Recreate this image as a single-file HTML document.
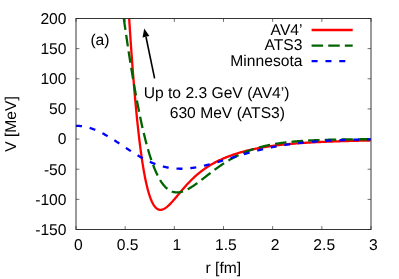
<!DOCTYPE html>
<html><head><meta charset="utf-8"><title>Potentials</title>
<style>
html,body{margin:0;padding:0;background:#fff;}
body{width:399px;height:279px;overflow:hidden;}
svg{display:block;will-change:transform;}
text{font-family:"Liberation Sans",sans-serif;font-size:15.65px;fill:#000;text-rendering:geometricPrecision;}
</style></head><body>
<svg width="399" height="279" viewBox="0 0 399 279">
<rect width="399" height="279" fill="#fff"/>
<defs><clipPath id="c"><rect x="76.0" y="18.5" width="295.0" height="211.0"/></clipPath></defs>
<g fill="none" stroke="#222" stroke-width="0.65"><path d="M76.00,229.5 v-3.4 M76.00,18.5 v3.4"/><path d="M125.17,229.5 v-3.4 M125.17,18.5 v3.4"/><path d="M174.33,229.5 v-3.4 M174.33,18.5 v3.4"/><path d="M223.50,229.5 v-3.4 M223.50,18.5 v3.4"/><path d="M272.67,229.5 v-3.4 M272.67,18.5 v3.4"/><path d="M321.83,229.5 v-3.4 M321.83,18.5 v3.4"/><path d="M371.00,229.5 v-3.4 M371.00,18.5 v3.4"/><path d="M76.0,18.50 h3.4 M371.0,18.50 h-3.4"/><path d="M76.0,48.64 h3.4 M371.0,48.64 h-3.4"/><path d="M76.0,78.79 h3.4 M371.0,78.79 h-3.4"/><path d="M76.0,108.93 h3.4 M371.0,108.93 h-3.4"/><path d="M76.0,139.07 h3.4 M371.0,139.07 h-3.4"/><path d="M76.0,169.21 h3.4 M371.0,169.21 h-3.4"/><path d="M76.0,199.36 h3.4 M371.0,199.36 h-3.4"/><path d="M76.0,229.50 h3.4 M371.0,229.50 h-3.4"/></g>
<g clip-path="url(#c)" fill="none" stroke-width="2.3" stroke-linejoin="round">
<path d="M129.17,18.50 L129.20,19.02 L129.69,26.66 L130.18,34.12 L130.67,41.38 L131.16,48.45 L131.66,55.33 L132.15,62.03 L132.64,68.54 L133.13,74.87 L133.62,81.02 L134.12,86.98 L134.61,92.77 L135.10,98.38 L135.59,103.81 L136.08,109.07 L136.57,114.17 L137.06,119.09 L137.56,123.84 L138.05,128.44 L138.54,132.87 L139.03,137.14 L139.52,141.26 L140.01,145.22 L140.51,149.03 L141.00,152.69 L141.49,156.21 L141.98,159.58 L142.47,162.81 L142.97,165.91 L143.46,168.87 L143.95,171.70 L144.44,174.40 L144.93,176.98 L145.42,179.43 L145.91,181.76 L146.41,183.98 L146.90,186.08 L147.39,188.07 L147.88,189.95 L148.37,191.72 L148.87,193.40 L149.36,194.97 L149.85,196.45 L150.34,197.83 L150.83,199.12 L151.32,200.33 L151.81,201.44 L152.31,202.48 L152.80,203.43 L153.29,204.31 L153.78,205.11 L154.27,205.84 L154.76,206.50 L155.26,207.09 L155.75,207.62 L156.24,208.08 L156.73,208.49 L157.22,208.83 L157.72,209.12 L158.21,209.36 L158.70,209.55 L159.19,209.68 L159.68,209.77 L160.17,209.82 L160.67,209.82 L161.16,209.79 L161.65,209.71 L162.14,209.60 L162.63,209.45 L163.12,209.27 L163.62,209.05 L164.11,208.81 L164.60,208.54 L165.09,208.24 L165.58,207.91 L166.07,207.57 L166.56,207.19 L167.06,206.80 L167.55,206.39 L168.04,205.96 L168.53,205.52 L169.02,205.05 L169.51,204.58 L170.01,204.08 L170.50,203.58 L170.99,203.07 L171.48,202.54 L171.97,202.00 L172.46,201.46 L172.96,200.91 L173.45,200.35 L173.94,199.79 L174.43,199.22 L174.92,198.64 L175.42,198.06 L175.91,197.48 L176.40,196.90 L176.89,196.31 L177.38,195.72 L177.87,195.13 L178.37,194.54 L178.86,193.95 L179.35,193.36 L179.84,192.78 L180.33,192.19 L180.82,191.61 L181.31,191.02 L181.81,190.44 L182.30,189.87 L182.79,189.29 L183.28,188.72 L183.77,188.15 L184.26,187.59 L184.76,187.03 L185.25,186.48 L185.74,185.93 L186.23,185.38 L186.72,184.84 L187.21,184.30 L187.71,183.77 L188.20,183.24 L188.69,182.72 L189.18,182.21 L189.67,181.70 L190.17,181.19 L190.66,180.69 L191.15,180.20 L191.64,179.71 L192.13,179.23 L192.62,178.75 L193.12,178.28 L193.61,177.82 L194.10,177.36 L194.59,176.90 L195.08,176.46 L195.57,176.01 L196.06,175.58 L196.56,175.14 L197.05,174.72 L197.54,174.30 L198.03,173.88 L198.52,173.47 L199.01,173.07 L199.51,172.67 L200.00,172.28 L200.49,171.89 L200.98,171.51 L201.47,171.13 L201.96,170.75 L202.46,170.39 L202.95,170.02 L203.44,169.67 L203.93,169.31 L204.42,168.96 L204.91,168.62 L205.41,168.28 L205.90,167.95 L206.39,167.61 L206.88,167.29 L207.37,166.97 L207.86,166.65 L208.36,166.34 L208.85,166.03 L209.34,165.72 L209.83,165.42 L210.32,165.12 L210.81,164.83 L211.31,164.54 L211.80,164.26 L212.29,163.97 L212.78,163.70 L213.27,163.42 L213.77,163.15 L214.26,162.88 L214.75,162.62 L215.24,162.36 L215.73,162.10 L216.22,161.84 L216.72,161.59 L217.21,161.35 L217.70,161.10 L218.19,160.86 L218.68,160.62 L219.17,160.38 L219.66,160.15 L220.16,159.92 L220.65,159.69 L221.14,159.47 L221.63,159.24 L222.12,159.02 L222.62,158.81 L223.11,158.59 L223.60,158.38 L224.09,158.17 L224.58,157.96 L225.07,157.76 L225.57,157.56 L226.06,157.36 L226.55,157.16 L227.04,156.97 L227.53,156.77 L228.02,156.58 L228.51,156.39 L229.01,156.21 L229.50,156.02 L229.99,155.84 L230.48,155.66 L230.97,155.48 L231.47,155.31 L231.96,155.13 L232.45,154.96 L232.94,154.79 L233.43,154.62 L233.92,154.46 L234.41,154.29 L234.91,154.13 L235.40,153.97 L235.89,153.81 L236.38,153.66 L236.87,153.50 L237.37,153.35 L237.86,153.19 L238.35,153.04 L238.84,152.90 L239.33,152.75 L239.82,152.60 L240.31,152.46 L240.81,152.32 L241.30,152.18 L241.79,152.04 L242.28,151.90 L242.77,151.77 L243.27,151.63 L243.76,151.50 L244.25,151.37 L244.74,151.24 L245.23,151.11 L245.72,150.99 L246.22,150.86 L246.71,150.74 L247.20,150.61 L247.69,150.49 L248.18,150.37 L248.67,150.25 L249.16,150.14 L249.66,150.02 L250.15,149.91 L250.64,149.79 L251.13,149.68 L251.62,149.57 L252.12,149.46 L252.61,149.36 L253.10,149.25 L253.59,149.14 L254.08,149.04 L254.57,148.94 L255.06,148.83 L255.56,148.73 L256.05,148.63 L256.54,148.53 L257.03,148.44 L257.52,148.34 L258.01,148.25 L258.51,148.15 L259.00,148.06 L259.49,147.97 L259.98,147.88 L260.47,147.79 L260.97,147.70 L261.46,147.61 L261.95,147.52 L262.44,147.44 L262.93,147.35 L263.42,147.27 L263.91,147.19 L264.41,147.11 L264.90,147.02 L265.39,146.94 L265.88,146.87 L266.37,146.79 L266.87,146.71 L267.36,146.63 L267.85,146.56 L268.34,146.48 L268.83,146.41 L269.32,146.34 L269.82,146.27 L270.31,146.20 L270.80,146.13 L271.29,146.06 L271.78,145.99 L272.27,145.92 L272.76,145.85 L273.26,145.79 L273.75,145.72 L274.24,145.66 L274.73,145.59 L275.22,145.53 L275.72,145.47 L276.21,145.41 L276.70,145.35 L277.19,145.29 L277.68,145.23 L278.17,145.17 L278.66,145.11 L279.16,145.05 L279.65,145.00 L280.14,144.94 L280.63,144.89 L281.12,144.83 L281.62,144.78 L282.11,144.72 L282.60,144.67 L283.09,144.62 L283.58,144.57 L284.07,144.52 L284.57,144.47 L285.06,144.42 L285.55,144.37 L286.04,144.32 L286.53,144.27 L287.02,144.22 L287.51,144.18 L288.01,144.13 L288.50,144.08 L288.99,144.04 L289.48,143.99 L289.97,143.95 L290.47,143.91 L290.96,143.86 L291.45,143.82 L291.94,143.78 L292.43,143.74 L292.92,143.69 L293.41,143.65 L293.91,143.61 L294.40,143.57 L294.89,143.53 L295.38,143.50 L295.87,143.46 L296.37,143.42 L296.86,143.38 L297.35,143.34 L297.84,143.31 L298.33,143.27 L298.82,143.23 L299.31,143.20 L299.81,143.16 L300.30,143.13 L300.79,143.10 L301.28,143.06 L301.77,143.03 L302.26,142.99 L302.76,142.96 L303.25,142.93 L303.74,142.90 L304.23,142.86 L304.72,142.83 L305.22,142.80 L305.71,142.77 L306.20,142.74 L306.69,142.71 L307.18,142.68 L307.67,142.65 L308.17,142.62 L308.66,142.59 L309.15,142.57 L309.64,142.54 L310.13,142.51 L310.62,142.48 L311.12,142.45 L311.61,142.43 L312.10,142.40 L312.59,142.37 L313.08,142.35 L313.57,142.32 L314.07,142.30 L314.56,142.27 L315.05,142.24 L315.54,142.22 L316.03,142.20 L316.52,142.17 L317.01,142.15 L317.51,142.12 L318.00,142.10 L318.49,142.08 L318.98,142.05 L319.47,142.03 L319.97,142.01 L320.46,141.98 L320.95,141.96 L321.44,141.94 L321.93,141.92 L322.42,141.90 L322.91,141.87 L323.41,141.85 L323.90,141.83 L324.39,141.81 L324.88,141.79 L325.37,141.77 L325.87,141.75 L326.36,141.73 L326.85,141.71 L327.34,141.69 L327.83,141.67 L328.32,141.65 L328.82,141.63 L329.31,141.61 L329.80,141.59 L330.29,141.58 L330.78,141.56 L331.27,141.54 L331.76,141.52 L332.26,141.50 L332.75,141.48 L333.24,141.47 L333.73,141.45 L334.22,141.43 L334.72,141.41 L335.21,141.40 L335.70,141.38 L336.19,141.36 L336.68,141.35 L337.17,141.33 L337.67,141.31 L338.16,141.30 L338.65,141.28 L339.14,141.27 L339.63,141.25 L340.12,141.23 L340.61,141.22 L341.11,141.20 L341.60,141.19 L342.09,141.17 L342.58,141.16 L343.07,141.14 L343.56,141.13 L344.06,141.11 L344.55,141.10 L345.04,141.08 L345.53,141.07 L346.02,141.06 L346.51,141.04 L347.01,141.03 L347.50,141.01 L347.99,141.00 L348.48,140.99 L348.97,140.97 L349.47,140.96 L349.96,140.95 L350.45,140.93 L350.94,140.92 L351.43,140.91 L351.92,140.89 L352.42,140.88 L352.91,140.87 L353.40,140.85 L353.89,140.84 L354.38,140.83 L354.87,140.82 L355.37,140.80 L355.86,140.79 L356.35,140.78 L356.84,140.77 L357.33,140.76 L357.82,140.74 L358.31,140.73 L358.81,140.72 L359.30,140.71 L359.79,140.70 L360.28,140.69 L360.77,140.67 L361.27,140.66 L361.76,140.65 L362.25,140.64 L362.74,140.63 L363.23,140.62 L363.72,140.61 L364.21,140.60 L364.71,140.59 L365.20,140.58 L365.69,140.56 L366.18,140.55 L366.67,140.54 L367.17,140.53 L367.66,140.52 L368.15,140.51 L368.64,140.50 L369.13,140.49 L369.62,140.48 L370.12,140.47 L370.61,140.46" stroke="#ff0000"/>
<path d="M123.80,18.50 L123.89,19.15 L124.38,22.61 L124.87,26.05 L125.36,29.46 L125.85,32.84 L126.35,36.20 L126.84,39.53 L127.33,42.84 L127.82,46.11 L128.31,49.36 L128.81,52.57 L129.30,55.75 L129.79,58.90 L130.28,62.02 L130.77,65.11 L131.26,68.16 L131.75,71.17 L132.25,74.16 L132.74,77.10 L133.23,80.01 L133.72,82.89 L134.21,85.73 L134.70,88.53 L135.20,91.29 L135.69,94.02 L136.18,96.70 L136.67,99.35 L137.16,101.96 L137.66,104.53 L138.15,107.06 L138.64,109.56 L139.13,112.01 L139.62,114.42 L140.11,116.79 L140.61,119.13 L141.10,121.42 L141.59,123.67 L142.08,125.88 L142.57,128.05 L143.06,130.18 L143.56,132.27 L144.05,134.32 L144.54,136.33 L145.03,138.30 L145.52,140.23 L146.01,142.12 L146.50,143.96 L147.00,145.77 L147.49,147.54 L147.98,149.27 L148.47,150.95 L148.96,152.60 L149.45,154.21 L149.95,155.78 L150.44,157.32 L150.93,158.81 L151.42,160.26 L151.91,161.68 L152.41,163.06 L152.90,164.40 L153.39,165.71 L153.88,166.97 L154.37,168.21 L154.86,169.40 L155.36,170.56 L155.85,171.68 L156.34,172.77 L156.83,173.83 L157.32,174.85 L157.81,175.83 L158.31,176.78 L158.80,177.70 L159.29,178.59 L159.78,179.44 L160.27,180.27 L160.76,181.06 L161.25,181.82 L161.75,182.54 L162.24,183.24 L162.73,183.91 L163.22,184.55 L163.71,185.16 L164.20,185.75 L164.70,186.30 L165.19,186.83 L165.68,187.33 L166.17,187.80 L166.66,188.25 L167.16,188.67 L167.65,189.07 L168.14,189.44 L168.63,189.79 L169.12,190.11 L169.61,190.41 L170.11,190.69 L170.60,190.94 L171.09,191.18 L171.58,191.39 L172.07,191.58 L172.56,191.75 L173.06,191.90 L173.55,192.03 L174.04,192.15 L174.53,192.24 L175.02,192.32 L175.51,192.37 L176.00,192.41 L176.50,192.44 L176.99,192.44 L177.48,192.43 L177.97,192.41 L178.46,192.37 L178.95,192.31 L179.45,192.24 L179.94,192.16 L180.43,192.06 L180.92,191.95 L181.41,191.82 L181.90,191.69 L182.40,191.54 L182.89,191.38 L183.38,191.21 L183.87,191.03 L184.36,190.83 L184.86,190.63 L185.35,190.42 L185.84,190.20 L186.33,189.96 L186.82,189.72 L187.31,189.47 L187.81,189.22 L188.30,188.95 L188.79,188.68 L189.28,188.40 L189.77,188.11 L190.26,187.82 L190.75,187.52 L191.25,187.21 L191.74,186.90 L192.23,186.58 L192.72,186.26 L193.21,185.94 L193.70,185.60 L194.20,185.27 L194.69,184.93 L195.18,184.58 L195.67,184.23 L196.16,183.88 L196.66,183.52 L197.15,183.17 L197.64,182.80 L198.13,182.44 L198.62,182.07 L199.11,181.70 L199.61,181.33 L200.10,180.96 L200.59,180.59 L201.08,180.21 L201.57,179.83 L202.06,179.45 L202.56,179.07 L203.05,178.69 L203.54,178.31 L204.03,177.93 L204.52,177.55 L205.01,177.17 L205.50,176.79 L206.00,176.40 L206.49,176.02 L206.98,175.64 L207.47,175.26 L207.96,174.88 L208.46,174.50 L208.95,174.12 L209.44,173.74 L209.93,173.36 L210.42,172.99 L210.91,172.61 L211.41,172.24 L211.90,171.87 L212.39,171.49 L212.88,171.12 L213.37,170.76 L213.86,170.39 L214.35,170.03 L214.85,169.66 L215.34,169.30 L215.83,168.94 L216.32,168.59 L216.81,168.23 L217.31,167.88 L217.80,167.53 L218.29,167.18 L218.78,166.83 L219.27,166.49 L219.76,166.15 L220.26,165.81 L220.75,165.47 L221.24,165.14 L221.73,164.81 L222.22,164.48 L222.71,164.15 L223.21,163.83 L223.70,163.51 L224.19,163.19 L224.68,162.87 L225.17,162.56 L225.66,162.25 L226.16,161.94 L226.65,161.64 L227.14,161.34 L227.63,161.04 L228.12,160.74 L228.61,160.45 L229.10,160.15 L229.60,159.87 L230.09,159.58 L230.58,159.30 L231.07,159.02 L231.56,158.74 L232.05,158.47 L232.55,158.20 L233.04,157.93 L233.53,157.66 L234.02,157.40 L234.51,157.14 L235.00,156.88 L235.50,156.63 L235.99,156.38 L236.48,156.13 L236.97,155.88 L237.46,155.64 L237.96,155.40 L238.45,155.16 L238.94,154.93 L239.43,154.69 L239.92,154.47 L240.41,154.24 L240.91,154.01 L241.40,153.79 L241.89,153.57 L242.38,153.36 L242.87,153.15 L243.36,152.93 L243.85,152.73 L244.35,152.52 L244.84,152.32 L245.33,152.12 L245.82,151.92 L246.31,151.72 L246.81,151.53 L247.30,151.34 L247.79,151.15 L248.28,150.97 L248.77,150.78 L249.26,150.60 L249.75,150.42 L250.25,150.25 L250.74,150.07 L251.23,149.90 L251.72,149.73 L252.21,149.57 L252.71,149.40 L253.20,149.24 L253.69,149.08 L254.18,148.92 L254.67,148.77 L255.16,148.61 L255.66,148.46 L256.15,148.31 L256.64,148.17 L257.13,148.02 L257.62,147.88 L258.11,147.74 L258.61,147.60 L259.10,147.46 L259.59,147.32 L260.08,147.19 L260.57,147.06 L261.06,146.93 L261.55,146.80 L262.05,146.68 L262.54,146.55 L263.03,146.43 L263.52,146.31 L264.01,146.19 L264.50,146.07 L265.00,145.96 L265.49,145.85 L265.98,145.73 L266.47,145.62 L266.96,145.52 L267.46,145.41 L267.95,145.30 L268.44,145.20 L268.93,145.10 L269.42,145.00 L269.91,144.90 L270.40,144.80 L270.90,144.71 L271.39,144.61 L271.88,144.52 L272.37,144.43 L272.86,144.34 L273.36,144.25 L273.85,144.16 L274.34,144.07 L274.83,143.99 L275.32,143.91 L275.81,143.82 L276.30,143.74 L276.80,143.66 L277.29,143.59 L277.78,143.51 L278.27,143.43 L278.76,143.36 L279.25,143.29 L279.75,143.21 L280.24,143.14 L280.73,143.07 L281.22,143.00 L281.71,142.94 L282.21,142.87 L282.70,142.80 L283.19,142.74 L283.68,142.68 L284.17,142.61 L284.66,142.55 L285.15,142.49 L285.65,142.43 L286.14,142.37 L286.63,142.32 L287.12,142.26 L287.61,142.20 L288.11,142.15 L288.60,142.10 L289.09,142.04 L289.58,141.99 L290.07,141.94 L290.56,141.89 L291.05,141.84 L291.55,141.79 L292.04,141.74 L292.53,141.70 L293.02,141.65 L293.51,141.60 L294.00,141.56 L294.50,141.52 L294.99,141.47 L295.48,141.43 L295.97,141.39 L296.46,141.35 L296.96,141.31 L297.45,141.27 L297.94,141.23 L298.43,141.19 L298.92,141.15 L299.41,141.11 L299.90,141.08 L300.40,141.04 L300.89,141.01 L301.38,140.97 L301.87,140.94 L302.36,140.90 L302.86,140.87 L303.35,140.84 L303.84,140.81 L304.33,140.78 L304.82,140.75 L305.31,140.72 L305.81,140.69 L306.30,140.66 L306.79,140.63 L307.28,140.60 L307.77,140.57 L308.26,140.55 L308.75,140.52 L309.25,140.49 L309.74,140.47 L310.23,140.44 L310.72,140.42 L311.21,140.39 L311.71,140.37 L312.20,140.35 L312.69,140.32 L313.18,140.30 L313.67,140.28 L314.16,140.26 L314.65,140.23 L315.15,140.21 L315.64,140.19 L316.13,140.17 L316.62,140.15 L317.11,140.13 L317.61,140.11 L318.10,140.09 L318.59,140.07 L319.08,140.06 L319.57,140.04 L320.06,140.02 L320.56,140.00 L321.05,139.99 L321.54,139.97 L322.03,139.95 L322.52,139.94 L323.01,139.92 L323.50,139.90 L324.00,139.89 L324.49,139.87 L324.98,139.86 L325.47,139.85 L325.96,139.83 L326.46,139.82 L326.95,139.80 L327.44,139.79 L327.93,139.78 L328.42,139.76 L328.91,139.75 L329.40,139.74 L329.90,139.73 L330.39,139.71 L330.88,139.70 L331.37,139.69 L331.86,139.68 L332.36,139.67 L332.85,139.66 L333.34,139.65 L333.83,139.63 L334.32,139.62 L334.81,139.61 L335.31,139.60 L335.80,139.59 L336.29,139.58 L336.78,139.57 L337.27,139.57 L337.76,139.56 L338.26,139.55 L338.75,139.54 L339.24,139.53 L339.73,139.52 L340.22,139.51 L340.71,139.50 L341.20,139.50 L341.70,139.49 L342.19,139.48 L342.68,139.47 L343.17,139.47 L343.66,139.46 L344.15,139.45 L344.65,139.44 L345.14,139.44 L345.63,139.43 L346.12,139.42 L346.61,139.42 L347.11,139.41 L347.60,139.40 L348.09,139.40 L348.58,139.39 L349.07,139.38 L349.56,139.38 L350.06,139.37 L350.55,139.37 L351.04,139.36 L351.53,139.36 L352.02,139.35 L352.51,139.35 L353.01,139.34 L353.50,139.34 L353.99,139.33 L354.48,139.33 L354.97,139.32 L355.46,139.32 L355.95,139.31 L356.45,139.31 L356.94,139.30 L357.43,139.30 L357.92,139.29 L358.41,139.29 L358.91,139.29 L359.40,139.28 L359.89,139.28 L360.38,139.27 L360.87,139.27 L361.36,139.27 L361.86,139.26 L362.35,139.26 L362.84,139.25 L363.33,139.25 L363.82,139.25 L364.31,139.24 L364.81,139.24 L365.30,139.24 L365.79,139.23 L366.28,139.23 L366.77,139.23 L367.26,139.23 L367.75,139.22 L368.25,139.22 L368.74,139.22 L369.23,139.21 L369.72,139.21 L370.21,139.21 L370.70,139.21" stroke="#006400" stroke-dasharray="11.5 5.12"/>
<path d="M76.00,125.81 L76.49,125.81 L76.98,125.82 L77.47,125.83 L77.97,125.85 L78.46,125.88 L78.95,125.91 L79.44,125.94 L79.93,125.99 L80.42,126.03 L80.92,126.08 L81.41,126.14 L81.90,126.21 L82.39,126.27 L82.88,126.35 L83.38,126.43 L83.87,126.51 L84.36,126.60 L84.85,126.70 L85.34,126.80 L85.83,126.90 L86.33,127.02 L86.82,127.13 L87.31,127.25 L87.80,127.38 L88.29,127.51 L88.78,127.65 L89.28,127.79 L89.77,127.94 L90.26,128.09 L90.75,128.24 L91.24,128.41 L91.73,128.57 L92.22,128.74 L92.72,128.92 L93.21,129.10 L93.70,129.28 L94.19,129.47 L94.68,129.66 L95.17,129.86 L95.67,130.06 L96.16,130.27 L96.65,130.48 L97.14,130.69 L97.63,130.91 L98.12,131.14 L98.62,131.36 L99.11,131.59 L99.60,131.83 L100.09,132.07 L100.58,132.31 L101.08,132.55 L101.57,132.80 L102.06,133.06 L102.55,133.31 L103.04,133.57 L103.53,133.83 L104.03,134.10 L104.52,134.37 L105.01,134.64 L105.50,134.91 L105.99,135.19 L106.48,135.47 L106.97,135.76 L107.47,136.04 L107.96,136.33 L108.45,136.62 L108.94,136.91 L109.43,137.21 L109.93,137.51 L110.42,137.81 L110.91,138.11 L111.40,138.41 L111.89,138.72 L112.38,139.03 L112.88,139.34 L113.37,139.65 L113.86,139.96 L114.35,140.28 L114.84,140.59 L115.33,140.91 L115.83,141.23 L116.32,141.55 L116.81,141.87 L117.30,142.19 L117.79,142.51 L118.28,142.83 L118.78,143.16 L119.27,143.48 L119.76,143.81 L120.25,144.13 L120.74,144.46 L121.23,144.79 L121.72,145.11 L122.22,145.44 L122.71,145.77 L123.20,146.09 L123.69,146.42 L124.18,146.75 L124.68,147.07 L125.17,147.40 L125.66,147.73 L126.15,148.05 L126.64,148.37 L127.13,148.70 L127.62,149.02 L128.12,149.34 L128.61,149.67 L129.10,149.99 L129.59,150.31 L130.08,150.63 L130.58,150.94 L131.07,151.26 L131.56,151.57 L132.05,151.89 L132.54,152.20 L133.03,152.51 L133.53,152.82 L134.02,153.13 L134.51,153.43 L135.00,153.74 L135.49,154.04 L135.98,154.34 L136.47,154.64 L136.97,154.93 L137.46,155.23 L137.95,155.52 L138.44,155.81 L138.93,156.10 L139.43,156.38 L139.92,156.66 L140.41,156.94 L140.90,157.22 L141.39,157.50 L141.88,157.77 L142.38,158.04 L142.87,158.31 L143.36,158.57 L143.85,158.83 L144.34,159.09 L144.83,159.35 L145.32,159.60 L145.82,159.85 L146.31,160.10 L146.80,160.34 L147.29,160.58 L147.78,160.82 L148.27,161.06 L148.77,161.29 L149.26,161.52 L149.75,161.74 L150.24,161.96 L150.73,162.18 L151.23,162.40 L151.72,162.61 L152.21,162.82 L152.70,163.02 L153.19,163.23 L153.68,163.42 L154.18,163.62 L154.67,163.81 L155.16,164.00 L155.65,164.18 L156.14,164.36 L156.63,164.54 L157.12,164.71 L157.62,164.88 L158.11,165.05 L158.60,165.21 L159.09,165.37 L159.58,165.52 L160.07,165.67 L160.57,165.82 L161.06,165.97 L161.55,166.11 L162.04,166.24 L162.53,166.38 L163.02,166.50 L163.52,166.63 L164.01,166.75 L164.50,166.87 L164.99,166.98 L165.48,167.09 L165.98,167.20 L166.47,167.30 L166.96,167.40 L167.45,167.50 L167.94,167.59 L168.43,167.68 L168.93,167.76 L169.42,167.84 L169.91,167.92 L170.40,168.00 L170.89,168.07 L171.38,168.13 L171.88,168.20 L172.37,168.25 L172.86,168.31 L173.35,168.36 L173.84,168.41 L174.33,168.46 L174.82,168.50 L175.32,168.54 L175.81,168.57 L176.30,168.60 L176.79,168.63 L177.28,168.65 L177.77,168.67 L178.27,168.69 L178.76,168.71 L179.25,168.72 L179.74,168.73 L180.23,168.73 L180.73,168.73 L181.22,168.73 L181.71,168.73 L182.20,168.72 L182.69,168.71 L183.18,168.69 L183.68,168.67 L184.17,168.65 L184.66,168.63 L185.15,168.60 L185.64,168.57 L186.13,168.54 L186.62,168.51 L187.12,168.47 L187.61,168.43 L188.10,168.39 L188.59,168.34 L189.08,168.29 L189.57,168.24 L190.07,168.18 L190.56,168.13 L191.05,168.07 L191.54,168.01 L192.03,167.94 L192.52,167.88 L193.02,167.81 L193.51,167.74 L194.00,167.66 L194.49,167.59 L194.98,167.51 L195.48,167.43 L195.97,167.34 L196.46,167.26 L196.95,167.17 L197.44,167.08 L197.93,166.99 L198.43,166.90 L198.92,166.80 L199.41,166.70 L199.90,166.60 L200.39,166.50 L200.88,166.40 L201.38,166.30 L201.87,166.19 L202.36,166.08 L202.85,165.97 L203.34,165.86 L203.83,165.75 L204.32,165.63 L204.82,165.52 L205.31,165.40 L205.80,165.28 L206.29,165.16 L206.78,165.04 L207.28,164.91 L207.77,164.79 L208.26,164.66 L208.75,164.54 L209.24,164.41 L209.73,164.28 L210.22,164.15 L210.72,164.01 L211.21,163.88 L211.70,163.75 L212.19,163.61 L212.68,163.48 L213.17,163.34 L213.67,163.20 L214.16,163.06 L214.65,162.92 L215.14,162.78 L215.63,162.64 L216.12,162.50 L216.62,162.36 L217.11,162.22 L217.60,162.07 L218.09,161.93 L218.58,161.78 L219.08,161.64 L219.57,161.49 L220.06,161.34 L220.55,161.20 L221.04,161.05 L221.53,160.90 L222.03,160.75 L222.52,160.60 L223.01,160.45 L223.50,160.30 L223.99,160.16 L224.48,160.01 L224.97,159.86 L225.47,159.71 L225.96,159.55 L226.45,159.40 L226.94,159.25 L227.43,159.10 L227.92,158.95 L228.42,158.80 L228.91,158.65 L229.40,158.50 L229.89,158.35 L230.38,158.20 L230.88,158.05 L231.37,157.90 L231.86,157.75 L232.35,157.60 L232.84,157.44 L233.33,157.29 L233.83,157.14 L234.32,157.00 L234.81,156.85 L235.30,156.70 L235.79,156.55 L236.28,156.40 L236.78,156.25 L237.27,156.10 L237.76,155.96 L238.25,155.81 L238.74,155.66 L239.23,155.51 L239.72,155.37 L240.22,155.22 L240.71,155.08 L241.20,154.93 L241.69,154.79 L242.18,154.65 L242.68,154.50 L243.17,154.36 L243.66,154.22 L244.15,154.08 L244.64,153.93 L245.13,153.79 L245.62,153.65 L246.12,153.52 L246.61,153.38 L247.10,153.24 L247.59,153.10 L248.08,152.96 L248.58,152.83 L249.07,152.69 L249.56,152.56 L250.05,152.42 L250.54,152.29 L251.03,152.16 L251.53,152.02 L252.02,151.89 L252.51,151.76 L253.00,151.63 L253.49,151.50 L253.98,151.37 L254.47,151.25 L254.97,151.12 L255.46,150.99 L255.95,150.87 L256.44,150.74 L256.93,150.62 L257.42,150.50 L257.92,150.37 L258.41,150.25 L258.90,150.13 L259.39,150.01 L259.88,149.89 L260.38,149.77 L260.87,149.66 L261.36,149.54 L261.85,149.42 L262.34,149.31 L262.83,149.20 L263.33,149.08 L263.82,148.97 L264.31,148.86 L264.80,148.75 L265.29,148.64 L265.78,148.53 L266.27,148.42 L266.77,148.31 L267.26,148.20 L267.75,148.10 L268.24,147.99 L268.73,147.89 L269.23,147.79 L269.72,147.68 L270.21,147.58 L270.70,147.48 L271.19,147.38 L271.68,147.28 L272.17,147.18 L272.67,147.09 L273.16,146.99 L273.65,146.89 L274.14,146.80 L274.63,146.70 L275.12,146.61 L275.62,146.52 L276.11,146.43 L276.60,146.34 L277.09,146.25 L277.58,146.16 L278.08,146.07 L278.57,145.98 L279.06,145.89 L279.55,145.81 L280.04,145.72 L280.53,145.64 L281.02,145.55 L281.52,145.47 L282.01,145.39 L282.50,145.31 L282.99,145.23 L283.48,145.15 L283.98,145.07 L284.47,144.99 L284.96,144.92 L285.45,144.84 L285.94,144.76 L286.43,144.69 L286.92,144.62 L287.42,144.54 L287.91,144.47 L288.40,144.40 L288.89,144.33 L289.38,144.26 L289.88,144.19 L290.37,144.12 L290.86,144.05 L291.35,143.98 L291.84,143.92 L292.33,143.85 L292.83,143.79 L293.32,143.72 L293.81,143.66 L294.30,143.59 L294.79,143.53 L295.28,143.47 L295.77,143.41 L296.27,143.35 L296.76,143.29 L297.25,143.23 L297.74,143.17 L298.23,143.11 L298.73,143.06 L299.22,143.00 L299.71,142.95 L300.20,142.89 L300.69,142.84 L301.18,142.78 L301.67,142.73 L302.17,142.68 L302.66,142.63 L303.15,142.57 L303.64,142.52 L304.13,142.47 L304.62,142.42 L305.12,142.38 L305.61,142.33 L306.10,142.28 L306.59,142.23 L307.08,142.19 L307.58,142.14 L308.07,142.10 L308.56,142.05 L309.05,142.01 L309.54,141.96 L310.03,141.92 L310.52,141.88 L311.02,141.84 L311.51,141.79 L312.00,141.75 L312.49,141.71 L312.98,141.67 L313.48,141.63 L313.97,141.59 L314.46,141.56 L314.95,141.52 L315.44,141.48 L315.93,141.44 L316.42,141.41 L316.92,141.37 L317.41,141.34 L317.90,141.30 L318.39,141.27 L318.88,141.23 L319.38,141.20 L319.87,141.17 L320.36,141.13 L320.85,141.10 L321.34,141.07 L321.83,141.04 L322.33,141.01 L322.82,140.98 L323.31,140.95 L323.80,140.92 L324.29,140.89 L324.78,140.86 L325.27,140.83 L325.77,140.80 L326.26,140.77 L326.75,140.75 L327.24,140.72 L327.73,140.69 L328.23,140.67 L328.72,140.64 L329.21,140.62 L329.70,140.59 L330.19,140.57 L330.68,140.54 L331.18,140.52 L331.67,140.49 L332.16,140.47 L332.65,140.45 L333.14,140.42 L333.63,140.40 L334.12,140.38 L334.62,140.36 L335.11,140.34 L335.60,140.32 L336.09,140.30 L336.58,140.28 L337.07,140.25 L337.57,140.24 L338.06,140.22 L338.55,140.20 L339.04,140.18 L339.53,140.16 L340.03,140.14 L340.52,140.12 L341.01,140.10 L341.50,140.09 L341.99,140.07 L342.48,140.05 L342.97,140.04 L343.47,140.02 L343.96,140.00 L344.45,139.99 L344.94,139.97 L345.43,139.96 L345.93,139.94 L346.42,139.92 L346.91,139.91 L347.40,139.90 L347.89,139.88 L348.38,139.87 L348.88,139.85 L349.37,139.84 L349.86,139.83 L350.35,139.81 L350.84,139.80 L351.33,139.79 L351.82,139.77 L352.32,139.76 L352.81,139.75 L353.30,139.74 L353.79,139.73 L354.28,139.71 L354.78,139.70 L355.27,139.69 L355.76,139.68 L356.25,139.67 L356.74,139.66 L357.23,139.65 L357.73,139.64 L358.22,139.63 L358.71,139.62 L359.20,139.61 L359.69,139.60 L360.18,139.59 L360.68,139.58 L361.17,139.57 L361.66,139.56 L362.15,139.55 L362.64,139.54 L363.13,139.53 L363.63,139.52 L364.12,139.52 L364.61,139.51 L365.10,139.50 L365.59,139.49 L366.08,139.48 L366.57,139.48 L367.07,139.47 L367.56,139.46 L368.05,139.45 L368.54,139.45 L369.03,139.44 L369.52,139.43 L370.02,139.43 L370.51,139.42 L371.00,139.41" stroke="#0000ff" stroke-dasharray="6.0 7.85"/>
</g>
<rect x="76.0" y="18.5" width="295.0" height="211.0" fill="none" stroke="#222" stroke-width="0.9"/>
<g><text x="78.40" y="250.0" text-anchor="middle">0</text><text x="127.57" y="250.0" text-anchor="middle">0.5</text><text x="176.73" y="250.0" text-anchor="middle">1</text><text x="225.90" y="250.0" text-anchor="middle">1.5</text><text x="275.07" y="250.0" text-anchor="middle">2</text><text x="324.23" y="250.0" text-anchor="middle">2.5</text><text x="373.40" y="250.0" text-anchor="middle">3</text><text x="66.5" y="23.90" text-anchor="end">200</text><text x="66.5" y="54.04" text-anchor="end">150</text><text x="66.5" y="84.19" text-anchor="end">100</text><text x="66.5" y="114.33" text-anchor="end">50</text><text x="66.5" y="144.47" text-anchor="end">0</text><text x="66.5" y="174.61" text-anchor="end">-50</text><text x="66.5" y="204.76" text-anchor="end">-100</text><text x="66.5" y="234.90" text-anchor="end">-150</text></g>
<text x="223.3" y="272.7" text-anchor="middle">r [fm]</text>
<text transform="translate(16.4,124) rotate(-90)" text-anchor="middle">V [MeV]</text>
<text x="302.5" y="34.5" text-anchor="end">AV4’</text>
<text x="302.5" y="50.1" text-anchor="end">ATS3</text>
<text x="302.5" y="65.7" text-anchor="end">Minnesota</text>
<g fill="none" stroke-width="2.3">
<path d="M311.6,30 H352.7" stroke="#ff0000"/>
<path d="M311.6,45.6 H352.7" stroke="#006400" stroke-dasharray="11.5 5.12"/>
<path d="M311.6,61.2 H352.7" stroke="#0000ff" stroke-dasharray="6.0 7.85"/>
</g>
<text x="90.4" y="45">(a)</text>
<text x="143.7" y="97.5">Up to 2.3 GeV (AV4’)</text>
<text x="169.7" y="118.2">630 MeV (ATS3)</text>
<path d="M154.6,78.3 L146,37" stroke="#000" stroke-width="1.6" fill="none"/>
<path d="M144.2,28.5 L149.36,36.11 L142.52,37.53 Z" fill="#000"/>
</svg>
</body></html>
